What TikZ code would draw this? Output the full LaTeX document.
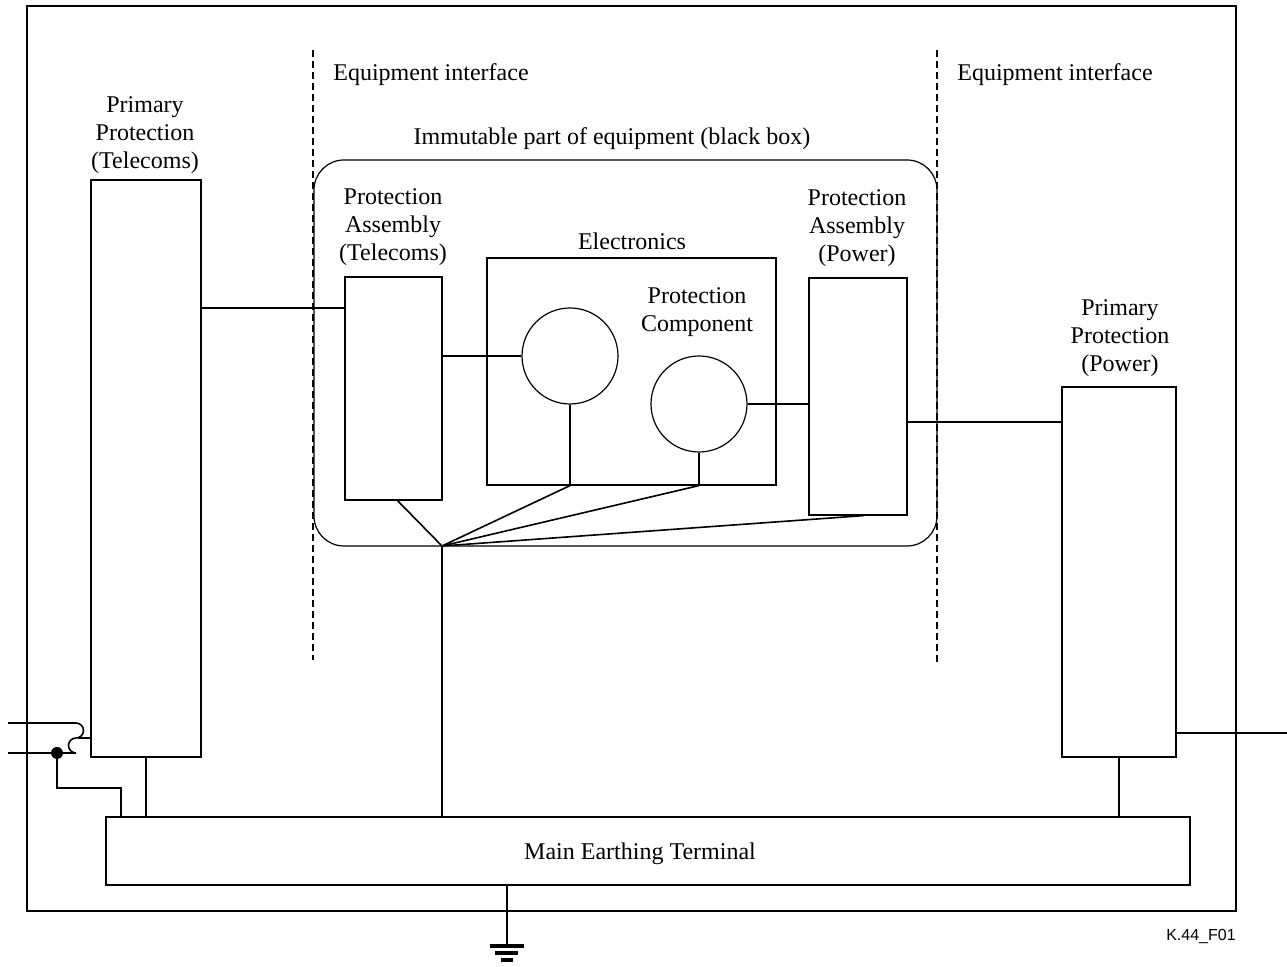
\documentclass[tikz,border=0pt]{standalone}
\usepackage{fontspec}
\setmainfont{Liberation Serif}
\newfontfamily\figfont{Liberation Sans}
\usetikzlibrary{positioning}

\begin{document}
\begin{tikzpicture}[x=0.5pt,y=-0.5pt,
    box/.style={draw,line width=0.6pt,inner sep=0pt},
    txt/.style={align=center,inner sep=0pt,yshift=-1.5pt,font=\fontsize{12}{14}\selectfont},
    wire/.style={line width=0.8pt},
    iface/.style={line width=0.8pt,dash pattern=on 3.5pt off 2pt}]
    \useasboundingbox (0,0) rectangle (1287,967);
    % outer frame
    \draw[line width=0.6pt] (27,6) rectangle (1236,911);
    % equipment interfaces
    \draw[iface] (313,50) -- (313,660);
    \draw[iface] (937,50) -- (937,665);
    \node[txt,anchor=west] (eil) at (333,72) {Equipment interface};
    \node[txt,anchor=west] (eir) at (957,72) {Equipment interface};
    % black box
    \node[box,rounded corners=15pt,minimum width=311.5pt,minimum height=193pt] (bb) at (625.5,353) {};
    \node[txt] (bbl) at (612,136) {Immutable part of equipment (black box)};
    % boxes
    \node[box,minimum width=55pt,minimum height=288.5pt] (ppt) at (146,468.5) {};
    \node[box,minimum width=48.5pt,minimum height=111.5pt] (pat) at (393.5,388.5) {};
    \node[box,minimum width=144.5pt,minimum height=113.5pt] (elec) at (631.5,371.5) {};
    \node[box,circle,minimum size=48pt] (cmp1) at (570,356) {};
    \node[box,circle,minimum size=48pt] (cmp2) at (699,404) {};
    \node[box,minimum width=49pt,minimum height=118.5pt] (pap) at (858,396.5) {};
    \node[box,minimum width=57pt,minimum height=185pt] (ppp) at (1119,572) {};
    \node[box,minimum width=542pt,minimum height=34pt] (met) at (648,851) {};
    % labels
    \node[txt] (pptl) at (145,132) {Primary\\Protection\\(Telecoms)};
    \node[txt] (patl) at (393,224) {Protection\\Assembly\\(Telecoms)};
    \node[txt] (elecl) at (632,238) {Electronics};
    \node[txt] (cmpl) at (697,309) {Protection\\Component};
    \node[txt] (papl) at (857,225) {Protection\\Assembly\\(Power)};
    \node[txt] (pppl) at (1120,335) {Primary\\Protection\\(Power)};
    \node[txt] (metl) at (640,851) {Main Earthing Terminal};
    \node[inner sep=0pt,font=\figfont\fontsize{8}{10}\selectfont] (fig) at (1201,937) {K.44\_F01};
    % signal lines
    \draw[wire] (ppt.east |- 0,308) -- (pat.west |- 0,308);
    \draw[wire] (pat.east |- cmp1.west) -- (cmp1.west);
    \draw[wire] (cmp2.east) -- (cmp2.east -| pap.west);
    \draw[wire] (pap.east |- 0,422) -- (ppp.west |- 0,422);
    \coordinate (rend) at (1287,733);
    \draw[wire] (ppp.east |- rend) -- (rend);
    \draw[wire] (cmp1.south) -- (cmp1.south |- elec.south);
    \draw[wire] (cmp2.south) -- (cmp2.south |- elec.south);
    % earthing fan
    \coordinate (hub) at (442,546);
    \draw[wire] (hub) -- ([xshift=2pt]pat.south);
    \draw[wire] (hub) -- (cmp1.south |- elec.south);
    \draw[wire] (hub) -- (cmp2.south |- elec.south);
    \draw[wire] (hub) -- ([xshift=3pt]pap.south);
    \draw[wire] (hub) -- (hub |- met.north);
    \draw[wire] (ppt.south) -- (ppt.south |- met.north);
    \draw[wire] (ppp.south) -- (ppp.south |- met.north);
    % line inputs
    \coordinate (wa) at (8,723);
    \coordinate (wb) at (8,753);
    \coordinate (dot) at (57,753);
    \draw[wire] (wa) -- (76,723) arc (90:-90:3.75pt) arc (90:270:3.75pt) -- (wb);
    \draw[wire] (78,738) -- (ppt.west |- 0,738);
    \fill (dot) circle (3pt);
    \draw[line width=0.6pt] (dot) -- (57,788) -| (121,0 |- met.north);
    % earth
    \coordinate (gnd) at (507,946);
    \draw[wire] (gnd |- met.south) -- (gnd);
    \draw[line width=1.8pt] (490,946) -- (524,946);
    \draw[line width=1.8pt] (495,953) -- (518,953);
    \draw[line width=1.8pt] (501,960) -- (513,960);
\end{tikzpicture}
\end{document}
